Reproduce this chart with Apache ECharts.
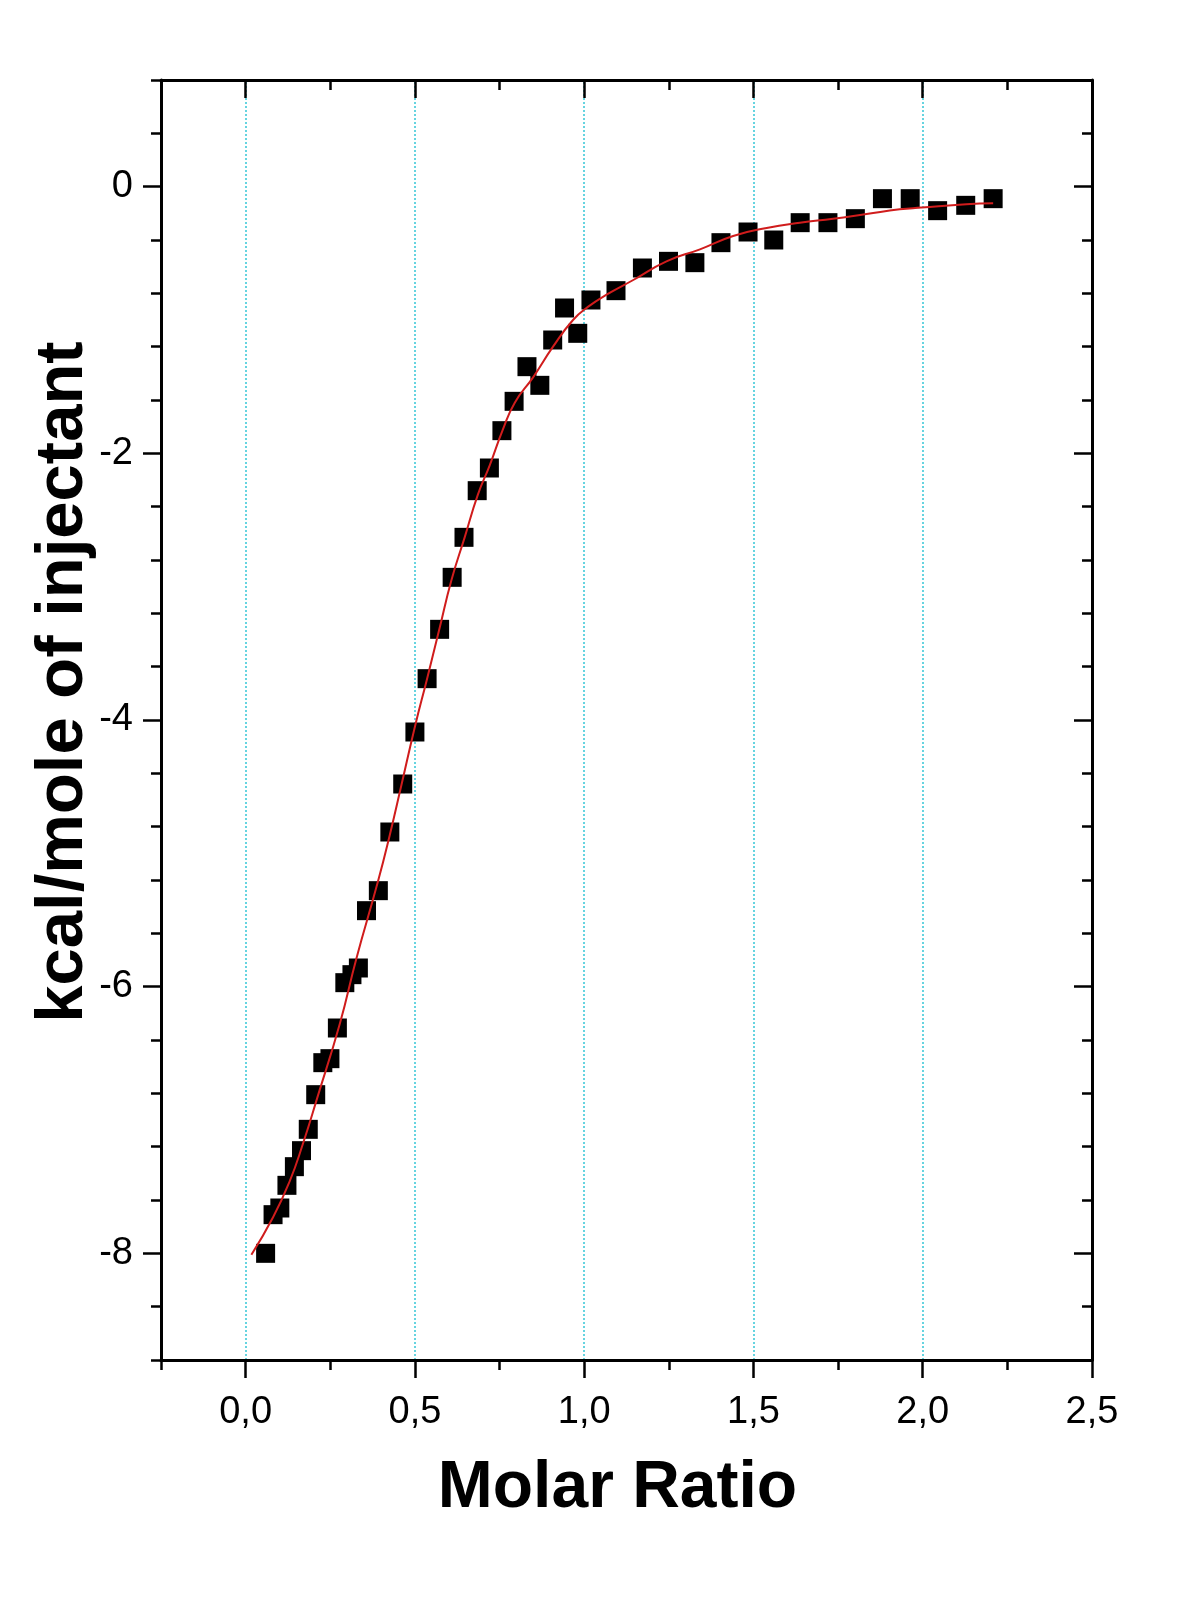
<!DOCTYPE html>
<html>
<head>
<meta charset="utf-8">
<script src="https://cdn.jsdelivr.net/npm/echarts@6/dist/echarts.min.js"></script>
<style>
  html, body { margin: 0; padding: 0; background: #fff; }
  #chart { width: 1200px; height: 1600px; }
</style>
</head>
<body>
<div id="chart"></div>
<script>
// measured points (molar ratio, kcal/mole of injectant)
const ratioX = [
  0.059, 0.081, 0.101, 0.122, 0.144, 0.165, 0.185, 0.207, 0.228, 0.249,
  0.271, 0.293, 0.314, 0.333, 0.357, 0.392, 0.426, 0.464, 0.500, 0.536,
  0.573, 0.610, 0.645, 0.684, 0.720, 0.757, 0.793, 0.831, 0.869, 0.907,
  0.942, 0.981, 1.020, 1.094, 1.172, 1.249, 1.327, 1.404, 1.484, 1.560,
  1.638, 1.720, 1.801, 1.881, 1.963, 2.044, 2.127, 2.208
];
const heatY = [
  -8.00, -7.71, -7.66, -7.49, -7.35, -7.23, -7.07, -6.81, -6.57, -6.54,
  -6.31, -5.97, -5.91, -5.86, -5.43, -5.28, -4.84, -4.48, -4.09, -3.69,
  -3.32, -2.93, -2.63, -2.28, -2.11, -1.83, -1.61, -1.35, -1.49, -1.15,
  -0.91, -1.10, -0.85, -0.78, -0.61, -0.56, -0.57, -0.42, -0.34, -0.40,
  -0.27, -0.27, -0.24, -0.09, -0.09, -0.18, -0.14, -0.09
];

// fitted curve
const fitX = [
  0.017, 0.081, 0.130, 0.169, 0.212, 0.278, 0.327, 0.391, 0.426, 0.460,
  0.500, 0.536, 0.573, 0.608, 0.647, 0.686, 0.721, 0.760, 0.795, 0.849,
  0.908, 0.967, 1.012, 1.066, 1.145, 1.243, 1.342, 1.440, 1.539, 1.637,
  1.735, 1.834, 1.932, 1.996, 2.129, 2.208
];
const fitY = [
  -8.01, -7.73, -7.46, -7.18, -6.83, -6.28, -5.79, -5.21, -4.86, -4.49,
  -4.05, -3.69, -3.31, -2.95, -2.63, -2.31, -2.09, -1.82, -1.62, -1.43,
  -1.20, -1.00, -0.90, -0.81, -0.70, -0.56, -0.47, -0.37, -0.31, -0.27,
  -0.24, -0.205, -0.17, -0.157, -0.132, -0.125
];

// ticks / labels
const xMajor = [0, 0.5, 1, 1.5, 2, 2.5];
const xMinor = [-0.25, 0.25, 0.75, 1.25, 1.75, 2.25];
const yMajor = [-8, -6, -4, -2, 0];
const yMinor = [-8.8, -8.4, -7.6, -7.2, -6.8, -6.4, -5.6, -5.2, -4.8, -4.4,
  -3.6, -3.2, -2.8, -2.4, -1.6, -1.2, -0.8, -0.4, 0.4, 0.8];
const xGrid = [0, 0.5, 1, 1.5, 2];

const font = 'Liberation Sans, Arial, Helvetica, sans-serif';
const lineStyle = { color: '#000', width: 3 };

function xAx(opts) {
  return Object.assign({
    type: 'value',
    min: -0.25,
    max: 2.5,
    position: 'bottom',
    z: 5,
    axisLine: { show: false, onZero: false, lineStyle: lineStyle },
    axisTick: { show: true, length: 10, lineStyle: { color: '#000', width: 2.5 } },
    axisLabel: { show: false },
    splitLine: { show: false },
  }, opts);
}

function yAx(opts) {
  return Object.assign({
    type: 'value',
    min: -8.8,
    max: 0.8,
    position: 'left',
    z: 5,
    axisLine: { show: false, onZero: false, lineStyle: lineStyle },
    axisTick: { show: true, length: 10, lineStyle: { color: '#000', width: 2.5 } },
    axisLabel: { show: false },
    splitLine: { show: false },
  }, opts);
}

const chart = echarts.init(document.getElementById('chart'), null, { renderer: 'canvas' });

const option = {
  animation: false,
  backgroundColor: '#fff',
  grid: { left: 161, top: 80, right: 108, bottom: 240, containLabel: false },
  xAxis: [
    xAx({
      axisLine: { show: true, onZero: false, lineStyle: lineStyle },
      axisTick: { show: true, length: 18, customValues: xMajor, lineStyle: { color: '#000', width: 2.5 } },
      axisLabel: {
        show: true,
        customValues: xMajor,
        margin: 34,
        fontSize: 38,
        color: '#000',
        fontFamily: font,
        formatter: (v) => v.toFixed(1).replace('.', ','),
      },
      name: 'Molar Ratio',
      nameLocation: 'middle',
      nameGap: 96,
      nameMoveOverlap: false,
      nameTextStyle: { fontSize: 66, fontWeight: 'bold', color: '#000', fontFamily: font, padding: [0, 18, 0, 0] },
    }),
    xAx({ axisTick: { show: true, length: 10, customValues: xMinor, lineStyle: { color: '#000', width: 2.5 } } }),
    xAx({
      position: 'top',
      axisLine: { show: true, onZero: false, lineStyle: lineStyle },
      axisTick: { show: true, inside: true, length: 18, customValues: xMajor, lineStyle: { color: '#000', width: 2.5 } },
    }),
    xAx({
      position: 'top',
      axisTick: { show: true, inside: true, length: 10, customValues: xMinor, lineStyle: { color: '#000', width: 2.5 } },
    }),
  ],
  yAxis: [
    yAx({
      axisLine: { show: true, onZero: false, lineStyle: lineStyle },
      axisTick: { show: true, length: 18, customValues: yMajor, lineStyle: { color: '#000', width: 2.5 } },
      axisLabel: {
        show: true,
        customValues: yMajor,
        margin: 28,
        fontSize: 38,
        color: '#000',
        fontFamily: font,
        formatter: (v) => String(v),
      },
      name: 'kcal/mole of injectant',
      nameLocation: 'middle',
      nameGap: 64,
      nameMoveOverlap: false,
      nameTextStyle: { fontSize: 67, fontWeight: 'bold', color: '#000', fontFamily: font, padding: [0, 0, 0, 76] },
    }),
    yAx({ axisTick: { show: true, length: 10, customValues: yMinor, lineStyle: { color: '#000', width: 2.5 } } }),
    yAx({
      position: 'right',
      axisLine: { show: true, onZero: false, lineStyle: lineStyle },
      axisTick: { show: true, inside: true, length: 18, customValues: yMajor, lineStyle: { color: '#000', width: 2.5 } },
    }),
    yAx({
      position: 'right',
      axisTick: { show: true, inside: true, length: 10, customValues: yMinor, lineStyle: { color: '#000', width: 2.5 } },
    }),
  ],
  series: [
    {
      // vertical cyan dotted grid lines
      type: 'line',
      data: [],
      z: -1,
      silent: true,
      markLine: {
        silent: true,
        z: -1,
        symbol: ['none', 'none'],
        label: { show: false },
        lineStyle: { color: '#66d4e0', width: 2, type: 'dotted' },
        data: xGrid.map((v) => ({ xAxis: v })),
      },
    },
    {
      type: 'scatter',
      symbol: 'rect',
      symbolSize: 19,
      itemStyle: { color: '#000', opacity: 1 },
      z: 2,
      data: ratioX.map((x, i) => [x, heatY[i]]),
    },
    {
      type: 'line',
      smooth: true,
      showSymbol: false,
      lineStyle: { color: '#d01c1c', width: 2 },
      z: 3,
      data: fitX.map((x, i) => [x, fitY[i]]),
    },
  ],
};

chart.setOption(option);
</script>
</body>
</html>
